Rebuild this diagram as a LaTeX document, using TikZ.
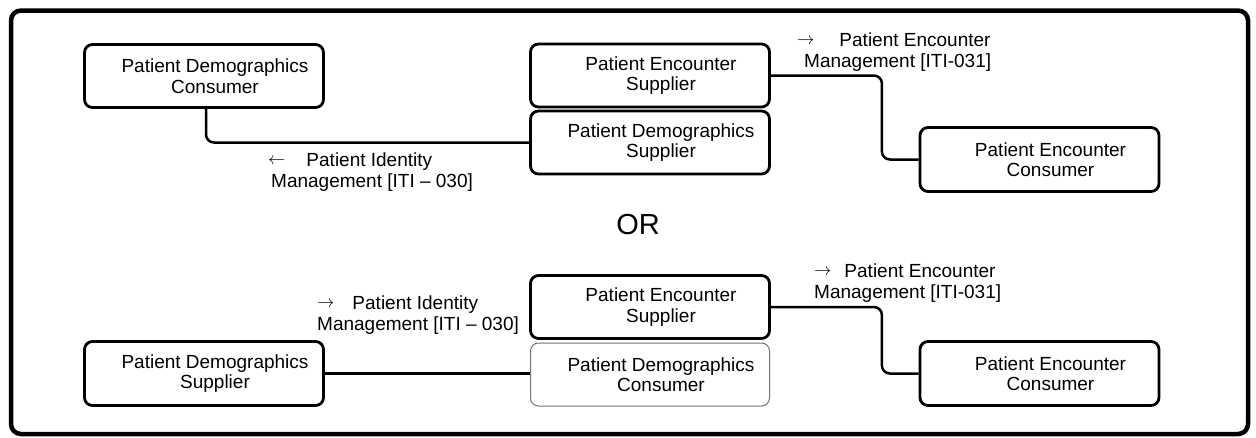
\documentclass[tikz,border=0pt]{standalone}
\usepackage{fontspec}
\setmainfont{Liberation Sans}
\newcommand{\rarr}{\raisebox{1.5pt}{$\rightarrow$}}
\newcommand{\larr}{\raisebox{1.5pt}{$\leftarrow$}}
\begin{document}
\begin{tikzpicture}[x=1pt,y=-1pt,
  box/.style={draw, line width=2.8pt, rounded corners=8pt, minimum width=239pt, minimum height=63pt, inner sep=0pt},
  thinbox/.style={box, line width=1pt, draw=black!55},
  conn/.style={line width=2.5pt, rounded corners=8pt},
  txt/.style={font=\fontsize{19}{20.5}\selectfont, align=center, inner sep=0pt},
  lbl/.style={font=\fontsize{19}{21}\selectfont, align=left, inner sep=0pt, anchor=base west},
  frame/.style={line width=4.5pt, rounded corners=10pt}
]
\useasboundingbox (0,0) rectangle (1256,437);
\draw[frame] (11,10.5) rectangle (1248,434);

% top scenario
\node[box] (b1) at (204,76) {};
\node[box] (b2) at (650,75.5) {};
\node[box] (b3) at (650,142.5) {};
\node[box, minimum height=64pt] (b4) at (1039.5,159.5) {};
\node[txt] (t1) at ([xshift=11pt]b1.center) {Patient Demographics\\Consumer};
\node[txt] (t2) at ([xshift=11pt]b2.center) {Patient Encounter\\Supplier};
\node[txt] (t3) at ([xshift=11pt]b3.center) {Patient Demographics\\Supplier};
\node[txt] (t4) at ([xshift=11pt]b4.center) {Patient Encounter\\Consumer};

\draw[conn] ([xshift=2pt]b1.south) |- (b3.west);
\draw[conn] (b2.east) -- ++(111,0) |- (b4.west);

\node[lbl] (l1) at (268,187) {\larr\hspace{21pt}Patient Identity\\\hspace*{3pt}Management [ITI – 030]};
\node[lbl] (l2) at (797,67) {\rarr\hspace{25pt}Patient Encounter\\\hspace*{7pt}Management [ITI-031]};

% OR
\node[font=\fontsize{29}{32}\selectfont, inner sep=0pt] (or) at (638,225) {OR};

% bottom scenario
\node[box, minimum height=64pt] (b5) at (204,373.5) {};
\node[box] (b6) at (650,307) {};
\node[thinbox] (b7) at (650,374.5) {};
\node[box, minimum height=64pt] (b8) at (1039.5,373.5) {};
\node[txt] (t5) at ([xshift=11pt]b5.center) {Patient Demographics\\Supplier};
\node[txt] (t6) at ([xshift=11pt]b6.center) {Patient Encounter\\Supplier};
\node[txt] (t7) at ([xshift=11pt]b7.center) {Patient Demographics\\Consumer};
\node[txt] (t8) at ([xshift=11pt]b8.center) {Patient Encounter\\Consumer};

\draw[conn] (b5.east) -- (b5.east -| b7.west);
\draw[conn] (b6.east) -- ++(111,0) |- (b8.west);

\node[lbl] (l3) at (317,330) {\rarr\hspace{18pt}Patient Identity\\Management [ITI – 030]};
\node[lbl] (l4) at (814,298) {\rarr\hspace{13pt}Patient Encounter\\Management [ITI-031]};
\end{tikzpicture}
\end{document}
